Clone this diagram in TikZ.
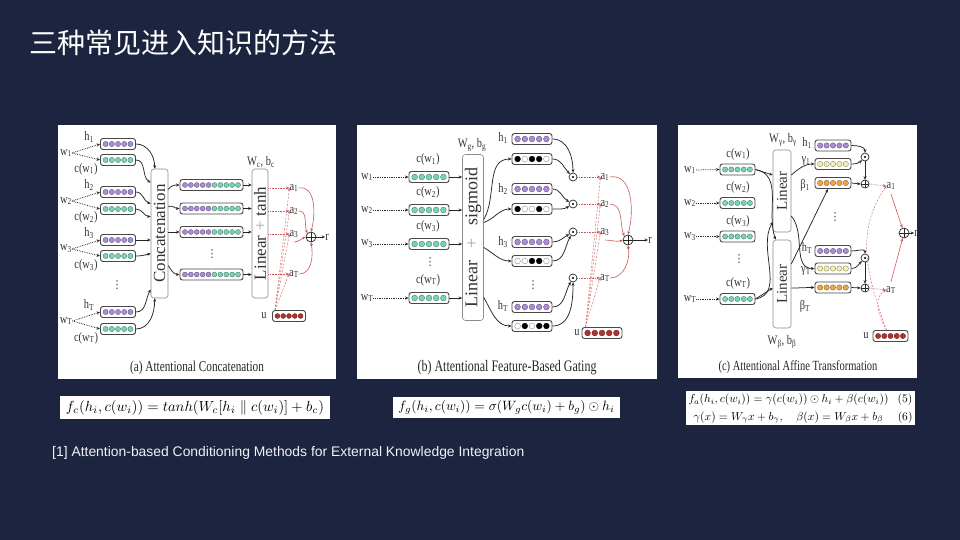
\documentclass[tikz,border=0pt]{standalone}
\usepackage[no-math]{fontspec}
\setmainfont{Liberation Serif}
\newfontfamily\cjk{Noto Sans CJK SC}
\newfontfamily\fnsans{Liberation Sans}
\newfontfamily\symf{DejaVu Sans}
\newfontfamily\dfont[FakeStretch=0.8]{Liberation Serif}
\newfontfamily\capfont[FakeStretch=0.75]{Liberation Serif}
\usepackage{amsmath,amssymb,graphicx}
\usetikzlibrary{arrows.meta}
\definecolor{bgnavy}{RGB}{28,36,64}
\definecolor{vpurple}{RGB}{170,140,215}
\definecolor{vgreen}{RGB}{120,212,185}
\definecolor{vyellow}{RGB}{240,240,175}
\definecolor{vorange}{RGB}{240,165,70}
\definecolor{vred}{RGB}{180,50,45}
\definecolor{attred}{RGB}{205,90,90}
\newcommand{\vecn}[6]{%
  \node[vec, minimum width=#4pt] (#1) at (#2,#3) {};
  \pgfmathsetmacro{\vsp}{(#4-4)/#5}%
  \pgfmathsetmacro{\vrad}{min(2.9,0.42*\vsp)}%
  \foreach \cc [count=\ii] in {#6}{%
    \pgfmathsetmacro{\vdx}{(\ii-(#5+1)/2)*\vsp}%
    \filldraw[fill=\cc, draw=\cc!55!black, line width=0.35pt] ([xshift=\vdx pt]#1.center) circle (\vrad pt);
  }%
}
\tikzset{
  vec/.style={draw=black!72, line width=0.9pt, rounded corners=2.5pt, fill=white, minimum height=11pt, inner sep=0pt},
  bigbox/.style={draw=black!45, line width=0.6pt, rounded corners=3pt, fill=white, inner sep=0pt},
  lab/.style={font=\dfont\fontsize{13}{13}\selectfont, text=black!80, inner sep=0pt},
  dts/.style={font=\symf\fontsize{11}{11}\selectfont, text=black!75, inner sep=0pt},
  rt/.style={rotate=90, font=\fontsize{17}{17}\selectfont, text=black!80, inner sep=0pt},
  capn/.style={inner sep=0pt, text=black!85},
  arr/.style={-{Stealth[length=3.5pt,width=3pt]}, line width=0.75pt, draw=black!85},
  darr/.style={arr, densely dotted},
  rarr/.style={-{Stealth[length=3.5pt,width=3pt]}, line width=0.6pt, draw=attred, densely dotted},
  rdash/.style={-{Stealth[length=3pt,width=2.6pt]}, line width=0.5pt, draw=attred!85, dash pattern=on 2pt off 1.5pt},
  rsolid/.style={-{Stealth[length=3.5pt,width=3pt]}, line width=0.6pt, draw=attred},
  odotn/.style={circle, draw=black!85, line width=0.7pt, minimum size=8pt, inner sep=0pt, fill=white,
    path picture={\fill[black] (path picture bounding box.center) circle (1.2pt);}},
  oplusn/.style={circle, draw=black!85, line width=0.7pt, minimum size=10pt, inner sep=0pt, fill=white,
    path picture={\draw[line width=0.7pt] (path picture bounding box.north) -- (path picture bounding box.south) (path picture bounding box.west) -- (path picture bounding box.east);}},
  fbox/.style={fill=white, inner sep=0pt},
}
\begin{document}
\begin{tikzpicture}[x=1pt,y=-1pt]
\fill[bgnavy] (0,0) rectangle (960,540);
\useasboundingbox (0,0) rectangle (960,540);

% title and footnote
\node[anchor=west, text=white, font=\cjk\fontsize{28}{28}\selectfont, inner sep=0pt] (title) at (29,43) {三种常见进入知识的方法};
\node[anchor=west, text=white!90!gray, font=\fnsans\fontsize{13.9}{13.9}\selectfont, inner sep=0pt] (foot) at (52,453) {[1] Attention-based Conditioning Methods for External Knowledge Integration};

% panels
\fill[white] (58,125) rectangle (336,379);
\fill[white] (357,125) rectangle (657,379);
\fill[white] (678,125) rectangle (917,378);

%%%%%%%%%%%%%%%% Panel (a)
\vecn{ah1}{118}{144}{35}{5}{vpurple,vpurple,vpurple,vpurple,vpurple}
\vecn{ac1}{118}{160}{35}{5}{vgreen,vgreen,vgreen,vgreen,vgreen}
\vecn{ah2}{118}{192}{35}{5}{vpurple,vpurple,vpurple,vpurple,vpurple}
\vecn{ac2}{118}{209}{35}{5}{vgreen,vgreen,vgreen,vgreen,vgreen}
\vecn{ah3}{118}{240}{35}{5}{vpurple,vpurple,vpurple,vpurple,vpurple}
\vecn{ac3}{118}{256}{35}{5}{vgreen,vgreen,vgreen,vgreen,vgreen}
\vecn{ahT}{118}{312}{35}{5}{vpurple,vpurple,vpurple,vpurple,vpurple}
\vecn{acT}{118}{329}{35}{5}{vgreen,vgreen,vgreen,vgreen,vgreen}
\node[lab] (aw1) at (66,153) {w\textsubscript{1}};
\node[lab] (aw2) at (66,201) {w\textsubscript{2}};
\node[lab] (aw3) at (66,249) {w\textsubscript{3}};
\node[lab] (awT) at (66,321) {w\textsubscript{T}};
\node[lab] (alh1) at (89,137) {h\textsubscript{1}};
\node[lab] (alh2) at (89,185) {h\textsubscript{2}};
\node[lab] (alh3) at (89,233) {h\textsubscript{3}};
\node[lab] (alhT) at (89,305) {h\textsubscript{T}};
\node[lab] (alc1) at (86,169) {c(w\textsubscript{1})};
\node[lab] (alc2) at (86,217) {c(w\textsubscript{2})};
\node[lab] (alc3) at (86,265) {c(w\textsubscript{3})};
\node[lab] (alcT) at (86,338) {c(w\textsubscript{T})};
\node[dts] (adots) at (117,285) {⋮};
\foreach \w/\h/\c in {aw1/ah1/ac1, aw2/ah2/ac2, aw3/ah3/ac3, awT/ahT/acT}{
  \draw[darr] (\w.east) -- (\h.west);
  \draw[darr] (\w.east) -- (\c.west);
}
\node[bigbox, minimum width=17pt, minimum height=129pt] (acat) at (159.5,233.5) {};
\node[rt] (acatt) at (acat) {Concatenation};
\draw[arr] (ah1.east) to[out=0,in=90] ([xshift=4pt]acat.north west);
\draw[arr] (ac1.east) to[out=0,in=150] ([yshift=51pt]acat.west);
\draw[arr] (ah2.east) to[out=0,in=165] ([yshift=30pt]acat.west);
\draw[arr] (ac2.east) to[out=0,in=180] ([yshift=17pt]acat.west);
\draw[arr] (ah3.east) -- (acat.west |- ah3);
\draw[arr] (ac3.east) to[out=0,in=195] ([yshift=-20pt]acat.west);
\draw[arr] (ahT.east) to[out=0,in=240] ([yshift=-56pt]acat.west);
\draw[arr] (acT.east) to[out=0,in=-90] ([xshift=4pt]acat.south west);

\vecn{am1}{211.5}{185}{63}{10}{vpurple,vpurple,vpurple,vpurple,vpurple,vgreen,vgreen,vgreen,vgreen,vgreen}
\vecn{am2}{211.5}{208.5}{63}{10}{vpurple,vpurple,vpurple,vpurple,vpurple,vgreen,vgreen,vgreen,vgreen,vgreen}
\vecn{am3}{211.5}{232}{63}{10}{vpurple,vpurple,vpurple,vpurple,vpurple,vgreen,vgreen,vgreen,vgreen,vgreen}
\vecn{amT}{211.5}{274.5}{63}{10}{vpurple,vpurple,vpurple,vpurple,vpurple,vgreen,vgreen,vgreen,vgreen,vgreen}
\node[dts] (amdots) at (212,254) {⋮};
\draw[arr] ([yshift=44pt]acat.east) to[out=60,in=180] (am1.west);
\draw[arr] ([yshift=27pt]acat.east) to[out=20,in=180] (am2.west);
\draw[arr] (acat.east |- am3) -- (am3.west);
\draw[arr] ([yshift=-32pt]acat.east) to[out=-60,in=180] (amT.west);

\node[bigbox, minimum width=16pt, minimum height=129pt] (alin) at (260,233.5) {};
\node[rt] (alint) at (alin) {Linear\hspace{5pt}\textcolor{black!35}{+}\hspace{5pt}tanh};
\node[lab] (awc) at (261,162) {W\textsubscript{c}, b\textsubscript{c}};
\foreach \m in {am1,am2,am3,amT}{ \draw[arr] (\m.east) -- (alin.west |- \m); }

\node[lab] (aa1) at (294,188) {a\textsubscript{1}};
\node[lab] (aa2) at (294,211) {a\textsubscript{2}};
\node[lab] (aa3) at (294,234) {a\textsubscript{3}};
\node[lab] (aaT) at (294,274) {a\textsubscript{T}};
\node[lab] (aul) at (264,316) {u};
\vecn{au}{289}{316}{33}{5}{vred,vred,vred,vred,vred}
\foreach \a in {aa1,aa2,aa3,aaT}{
  \draw[rarr] (alin.east |- \a) -- (\a.west);
  \draw[rdash] ([xshift=3pt]au.north west) -- (\a.west);
}
\node[oplusn] (aplus) at (311,237) {};
\node[lab] (ar) at (327,237) {r};
\draw[rsolid] (aa1.east) to[out=10,in=75] (aplus.north);
\draw[rsolid] (aa2.east) to[out=0,in=110] (aplus.north west);
\draw[rsolid] ([yshift=-8pt]aa3.center) to[out=0,in=200] (aplus.west);
\draw[rsolid] (aaT.east) to[out=0,in=-80] (aplus.south);
\draw[arr] (aplus.east) -- (ar.west);
\node[capn, font=\capfont\fontsize{15}{15}\selectfont] (capa) at (197,368) {(a) Attentional Concatenation};

%%%%%%%%%%%%%%%% Panel (b)
\vecn{bc1}{429}{177}{40}{5}{vgreen,vgreen,vgreen,vgreen,vgreen}
\vecn{bc2}{429}{210}{40}{5}{vgreen,vgreen,vgreen,vgreen,vgreen}
\vecn{bc3}{429}{244}{40}{5}{vgreen,vgreen,vgreen,vgreen,vgreen}
\vecn{bcT}{429}{298}{40}{5}{vgreen,vgreen,vgreen,vgreen,vgreen}
\node[lab] (bw1) at (367,177) {w\textsubscript{1}};
\node[lab] (bw2) at (367,210) {w\textsubscript{2}};
\node[lab] (bw3) at (367,244) {w\textsubscript{3}};
\node[lab] (bwT) at (367,298) {w\textsubscript{T}};
\node[lab] (blc1) at (428,159) {c(w\textsubscript{1})};
\node[lab] (blc2) at (428,192) {c(w\textsubscript{2})};
\node[lab] (blc3) at (428,226) {c(w\textsubscript{3})};
\node[lab] (blcT) at (428,280) {c(w\textsubscript{T})};
\node[dts] (bdots) at (430,262) {⋮};
\node[bigbox, minimum width=21pt, minimum height=166pt] (bgate) at (473,237.5) {};
\node[rt, font=\fontsize{18}{18}\selectfont] (bgatet) at (bgate) {Linear\hspace{12pt}\textcolor{black!35}{+}\hspace{12pt}sigmoid};
\node[lab] (bwg) at (472,145) {W\textsubscript{g}, b\textsubscript{g}};
\foreach \w/\c in {bw1/bc1, bw2/bc2, bw3/bc3, bwT/bcT}{
  \draw[darr] (\w.east) -- (\c.west);
  \draw[arr] (\c.east) -- (bgate.west |- \c);
}
\vecn{bh1}{532}{139}{40}{5}{vpurple,vpurple,vpurple,vpurple,vpurple}
\vecn{bg1}{532}{159}{40}{5}{black,white,black,black,white}
\vecn{bh2}{532}{189}{40}{5}{vpurple,vpurple,vpurple,vpurple,vpurple}
\vecn{bg2}{532}{209}{40}{5}{black,white,white,black,white}
\vecn{bh3}{532}{242}{40}{5}{vpurple,vpurple,vpurple,vpurple,vpurple}
\vecn{bg3}{532}{261}{40}{5}{white,white,black,black,white}
\vecn{bhT}{532}{307}{40}{5}{vpurple,vpurple,vpurple,vpurple,vpurple}
\vecn{bgT}{532}{326}{40}{5}{white,black,white,black,black}
\node[lab] (blh1) at (503,138) {h\textsubscript{1}};
\node[lab] (blh2) at (503,189) {h\textsubscript{2}};
\node[lab] (blh3) at (503,242) {h\textsubscript{3}};
\node[lab] (blhT) at (503,306) {h\textsubscript{T}};
\node[dts] (bdots2) at (533,285) {⋮};
\draw[arr] ([yshift=18pt]bgate.east) to[out=60,in=180] (bg1.west);
\draw[arr] ([yshift=15pt]bgate.east) to[out=20,in=180] (bg2.west);
\draw[arr] ([yshift=-10pt]bgate.east) to[out=-30,in=180] (bg3.west);
\draw[arr] ([yshift=-60pt]bgate.east) to[out=-60,in=180] (bgT.west);
\node[odotn] (bo1) at (573,177) {};
\node[odotn] (bo2) at (573,204) {};
\node[odotn] (bo3) at (573,232) {};
\node[odotn] (boT) at (573,278) {};
\draw[arr] (bh1.east) to[out=0,in=90] (bo1);
\draw[arr] (bg1.east) to[out=0,in=135] (bo1);
\draw[arr] (bh2.east) to[out=0,in=150] (bo2);
\draw[arr] (bg2.east) to[out=0,in=210] (bo2);
\draw[arr] (bh3.east) to[out=0,in=210] (bo3);
\draw[arr] (bg3.east) to[out=0,in=240] (bo3);
\draw[arr] (bhT.east) to[out=0,in=240] (boT);
\draw[arr] (bgT.east) to[out=0,in=270] (boT);
\node[lab] (ba1) at (605,177) {a\textsubscript{1}};
\node[lab] (ba2) at (605,204) {a\textsubscript{2}};
\node[lab] (ba3) at (605,232) {a\textsubscript{3}};
\node[lab] (baT) at (605,278) {a\textsubscript{T}};
\node[lab] (bul) at (577,333) {u};
\vecn{bu}{602}{333}{40}{5}{vred,vred,vred,vred,vred}
\foreach \o/\a in {bo1/ba1, bo2/ba2, bo3/ba3, boT/baT}{
  \draw[rarr] (\o.east) -- (\a.west);
  \draw[rdash] ([xshift=4pt]bu.north west) -- (\a.west);
}
\node[oplusn] (bplus) at (628,240) {};
\node[lab] (br) at (650,240) {r};
\draw[rsolid] (ba1.east) to[out=10,in=75] (bplus.north);
\draw[rsolid] (ba2.east) to[out=0,in=110] (bplus.north west);
\draw[rsolid] ([yshift=-8pt]ba3.center) to[out=0,in=200] (bplus.west);
\draw[rsolid] (baT.east) to[out=0,in=-80] (bplus.south);
\draw[arr] (bplus.east) -- (br.west);
\node[capn, font=\capfont\fontsize{16}{16}\selectfont] (capb) at (507,368) {(b) Attentional Feature-Based Gating};

%%%%%%%%%%%%%%%% Panel (c)
\vecn{cc1}{737.5}{169.5}{35}{5}{vgreen,vgreen,vgreen,vgreen,vgreen}
\vecn{cc2}{737.5}{203}{35}{5}{vgreen,vgreen,vgreen,vgreen,vgreen}
\vecn{cc3}{737.5}{236.5}{35}{5}{vgreen,vgreen,vgreen,vgreen,vgreen}
\vecn{ccT}{737.5}{299}{35}{5}{vgreen,vgreen,vgreen,vgreen,vgreen}
\node[lab] (cw1) at (690,170) {w\textsubscript{1}};
\node[lab] (cw2) at (690,203) {w\textsubscript{2}};
\node[lab] (cw3) at (690,236.5) {w\textsubscript{3}};
\node[lab] (cwT) at (690,299) {w\textsubscript{T}};
\node[lab] (clc1) at (738,154) {c(w\textsubscript{1})};
\node[lab] (clc2) at (738,187) {c(w\textsubscript{2})};
\node[lab] (clc3) at (738,221) {c(w\textsubscript{3})};
\node[lab] (clcT) at (738,283) {c(w\textsubscript{T})};
\node[dts] (cdots) at (739,259) {⋮};
\foreach \w/\c in {cw1/cc1, cw2/cc2, cw3/cc3, cwT/ccT}{ \draw[darr] (\w.east) -- (\c.west); }
\node[bigbox, minimum width=18pt, minimum height=82pt] (clin1) at (782,191) {};
\node[rt, font=\fontsize{15}{15}\selectfont] (clin1t) at (clin1) {Linear};
\node[bigbox, minimum width=18pt, minimum height=88pt] (clin2) at (782,284) {};
\node[rt, font=\fontsize{15}{15}\selectfont] (clin2t) at (clin2) {Linear};
\node[lab] (cwgam) at (783,140) {W\textsubscript{γ}, b\textsubscript{γ}};
\node[lab] (cwbet) at (782,342) {W\textsubscript{β}, b\textsubscript{β}};
\draw[arr] (cc1.east) -- ([yshift=16pt]clin1.west);
\draw[arr] (cc1.east) to[out=-10,in=110] ([xshift=3pt]clin2.north west);
\draw[arr] (ccT.east) to[out=10,in=-120] ([yshift=-31pt]clin1.west);
\draw[arr] (ccT.east) -- ([yshift=-4pt]clin2.west);

\vecn{ch1}{833}{145.5}{36}{5}{vpurple,vpurple,vpurple,vpurple,vpurple}
\vecn{cg1}{833}{164}{36}{5}{vyellow,vyellow,vyellow,vyellow,vyellow}
\vecn{cb1}{833}{183}{36}{5}{vorange,vorange,vorange,vorange,vorange}
\vecn{chT}{833}{251}{36}{5}{vpurple,vpurple,vpurple,vpurple,vpurple}
\vecn{cgT}{833}{268.5}{36}{5}{vyellow,vyellow,vyellow,vyellow,vyellow}
\vecn{cbT}{833}{287.5}{36}{5}{vorange,vorange,vorange,vorange,vorange}
\node[lab] (clh1) at (807,143) {h\textsubscript{1}};
\node[lab] (clg1) at (806,161) {γ\textsubscript{1}};
\node[lab] (clb1) at (805,185) {β\textsubscript{1}};
\node[lab] (clhT) at (807,248) {h\textsubscript{T}};
\node[lab] (clgT) at (806,271) {γ\textsubscript{T}};
\node[lab] (clbT) at (805,306) {β\textsubscript{T}};
\node[dts] (cdots2) at (835,217) {⋮};
\draw[arr] ([yshift=16pt]clin1.east) to[out=40,in=180] (cg1.west);
\draw[arr] ([yshift=-25pt]clin1.east) to[out=-50,in=180] (cgT.west);
\draw[arr] ([yshift=20pt]clin2.east) -- ([xshift=-5pt]cb1.south);
\draw[arr] ([yshift=-4pt]clin2.east) to[out=0,in=180] (cbT.west);

\node[odotn] (co1) at (865,157) {};
\node[oplusn, minimum size=8pt] (cp1) at (865,184) {};
\node[odotn] (coT) at (865,258) {};
\node[oplusn, minimum size=8pt] (cpT) at (865,288) {};
\draw[arr] (ch1.east) to[out=0,in=90] (co1.north);
\draw[arr] (cg1.east) to[out=0,in=225] (co1);
\draw[arr] (co1.south) -- (cp1.north);
\draw[arr] (cb1.east) -- (cp1.west);
\draw[arr] (chT.east) to[out=0,in=90] (coT.north);
\draw[arr] (cgT.east) to[out=0,in=225] (coT);
\draw[arr] (coT.south) -- (cpT.north);
\draw[arr] (cbT.east) -- (cpT.west);

\node[lab] (ca1) at (891,186) {a\textsubscript{1}};
\node[lab] (caT) at (891,290) {a\textsubscript{T}};
\draw[rarr] (cp1.east) -- (ca1.west);
\draw[rarr] (cpT.east) -- (caT.west);
\node[lab] (cul) at (866,336) {u};
\vecn{cu}{890.5}{336}{35}{5}{vred,vred,vred,vred,vred}
\draw[rdash] ([xshift=-4pt]cu.north) to[out=110,in=235] (ca1.west);
\draw[rdash] ([xshift=-4pt]cu.north) to[out=120,in=210] (caT.west);
\node[oplusn] (cplus) at (904,233) {};
\node[lab] (cr) at (916,233) {r};
\draw[rsolid] ([yshift=-4pt]ca1.south) -- (cplus);
\draw[rsolid] ([yshift=4pt]caT.north) -- (cplus);
\draw[arr] (cplus.east) -- (cr.west);
\node[capn, font=\capfont\fontsize{14}{14}\selectfont] (capc) at (798,367) {(c) Attentional Affine Transformation};

%%%%%%%%%%%%%%%% formulas
\node[fbox, minimum width=270pt, minimum height=23pt] (fa) at (195,407.5)
  {\resizebox{258pt}{!}{$f_c(h_i, c(w_i)) = tanh(W_c[h_i \parallel c(w_i)] + b_c)$}};
\node[fbox, minimum width=227pt, minimum height=21pt] (fb) at (506.5,407.5)
  {\resizebox{216pt}{!}{$f_g(h_i, c(w_i)) = \sigma(W_g c(w_i) + b_g) \odot h_i$}};
\node[fbox, minimum width=229pt, minimum height=34pt] (fc) at (800.5,408)
  {\resizebox{224pt}{!}{\renewcommand{\arraystretch}{1.25}\begin{tabular}{@{}c@{\hspace{8pt}}r@{}}
   $f_a(h_i, c(w_i)) = \gamma(c(w_i)) \odot h_i + \beta(c(w_i))$ & $(5)$\\
   $\gamma(x) = W_\gamma x + b_\gamma, \quad \beta(x) = W_\beta x + b_\beta$ & $(6)$
  \end{tabular}}};
\end{tikzpicture}
\end{document}
